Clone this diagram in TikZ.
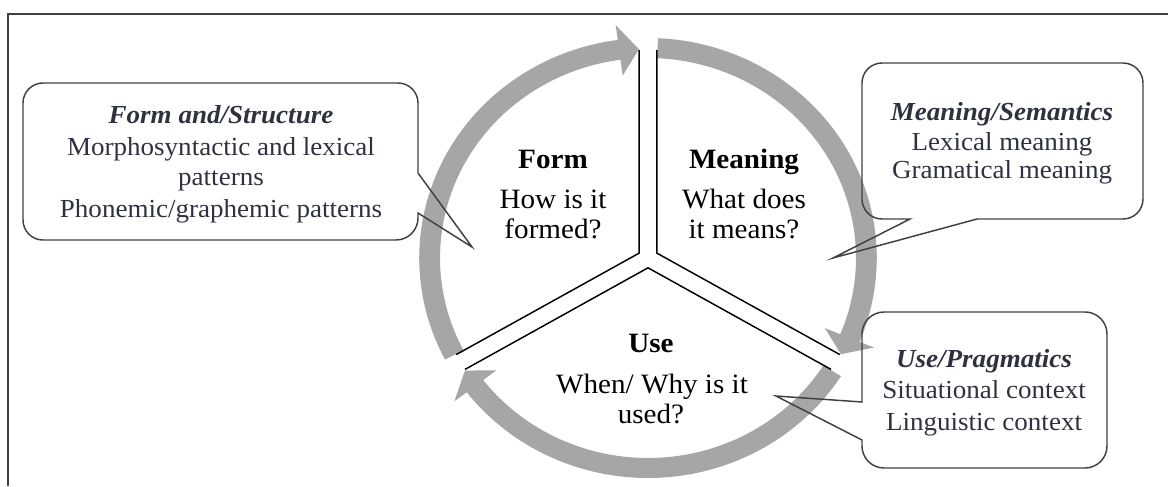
\documentclass[tikz,border=0pt]{standalone}
\usepackage{fontspec}
\setmainfont{Liberation Serif}[FakeStretch=1.04]
\definecolor{ringgray}{RGB}{166,166,166}
\definecolor{calloutink}{RGB}{45,50,62}
\definecolor{frameline}{RGB}{64,64,64}
\newcommand\ringarc[3]{\fill[ringgray] (#1:220) arc[start angle=#1, end angle=#3, radius=220] -- (#3:235) -- (#2:209) -- (#3:184) -- (#3:200) arc[start angle=#3, end angle=#1, radius=200] -- cycle;}
\begin{document}
\begin{tikzpicture}[x=0.75pt,y=-0.75pt,
  sectortitle/.style={font=\bfseries\fontsize{21}{24}\selectfont, anchor=base, inner sep=0pt},
  sectortext/.style={font=\fontsize{21}{24}\selectfont, anchor=base, inner sep=0pt},
  boxtitle/.style={font=\bfseries\itshape\fontsize{19.5}{22}\selectfont, text=calloutink, anchor=base, inner sep=0pt},
  calltext/.style={font=\fontsize{19.5}{22}\selectfont, text=calloutink, anchor=base, inner sep=0pt},
  divider/.style={line width=1.1pt, black},
  callout/.style={draw=frameline, line width=1.1pt},
  border/.style={draw=frameline, line width=1.5pt}]
\useasboundingbox (0,0) rectangle (1168,486);
\draw[border] (8,486) -- (8,14) -- (1168,14);

% ring with three arrows and the dividers
\begin{scope}[shift={(648,258)}, xscale=1.04, yscale=-1]
  \ringarc{207.5}{92.4}{97.6}
  \ringarc{87.5}{-27.4}{-22.4}
  \ringarc{-32.5}{-147.4}{-142.4}
  \coordinate (fA) at (-8.49,4.9);
  \coordinate (mA) at (8.49,4.9);
  \coordinate (uA) at (0,-9.8);
  \coordinate (fTop) at (-8.5,208);
  \coordinate (mTop) at (8.5,208);
  \coordinate (fLow) at (-184.4,-96.6);
  \coordinate (uLeft) at (-175.9,-111.4);
  \coordinate (mLow) at (184.4,-96.6);
  \coordinate (uRight) at (175.9,-111.4);
  \draw[divider] (fTop) -- (fA) -- (fLow);
  \draw[divider] (mTop) -- (mA) -- (mLow);
  \draw[divider] (uLeft) -- (uA) -- (uRight);
\end{scope}

% sector texts
\node[sectortitle] (formT) at (553,168) {Form};
\node[sectortext] (form1) at (553,208) {How is it};
\node[sectortext] (form2) at (553,238) {formed?};
\node[sectortitle] (meanT) at (744,168) {Meaning};
\node[sectortext] (mean1) at (744,208) {What does};
\node[sectortext] (mean2) at (744,238) {it means?};
\node[sectortitle] (useT) at (651,352) {Use};
\node[sectortext] (use1) at (652,393) {When/ Why is it};
\node[sectortext] (use2) at (651,423) {used?};

% left callout
\draw[callout] (43,83) -- (398,83) arc[start angle=270, end angle=360, radius=20]
  -- (418,173) -- (472,247) -- (418,213) -- (418,218)
  arc[start angle=0, end angle=90, radius=22] -- (43,240)
  arc[start angle=90, end angle=180, radius=20] -- (23,103)
  arc[start angle=180, end angle=270, radius=20] -- cycle;
\node[boxtitle] (fsT) at (221,123) {Form and/Structure};
\node[calltext] (fs1) at (221,155) {Morphosyntactic and lexical};
\node[calltext] (fs2) at (221,185) {patterns};
\node[calltext] (fs3) at (221,217) {Phonemic/graphemic patterns};

% top right callout
\draw[callout] (882,63) -- (1123,63) arc[start angle=270, end angle=360, radius=20]
  -- (1143,199) arc[start angle=0, end angle=90, radius=20]
  -- (977,219) -- (833,258) -- (910,219) -- (882,219)
  arc[start angle=90, end angle=180, radius=20] -- (862,83)
  arc[start angle=180, end angle=270, radius=20] -- cycle;
\node[boxtitle] (msT) at (1002,120) {Meaning/Semantics};
\node[calltext] (ms1) at (1002,150) {Lexical meaning};
\node[calltext] (ms2) at (1002,178) {Gramatical meaning};

% bottom right callout
\draw[callout] (884,312) -- (1085,312) arc[start angle=270, end angle=360, radius=22]
  -- (1107,446) arc[start angle=0, end angle=90, radius=22]
  -- (884,468) arc[start angle=90, end angle=180, radius=22]
  -- (862,440) -- (776,396) -- (862,402) -- (862,334)
  arc[start angle=180, end angle=270, radius=22] -- cycle;
\node[boxtitle] (upT) at (984,367) {Use/Pragmatics};
\node[calltext] (up1) at (984,398) {Situational context};
\node[calltext] (up2) at (984,430) {Linguistic context};
\end{tikzpicture}
\end{document}
